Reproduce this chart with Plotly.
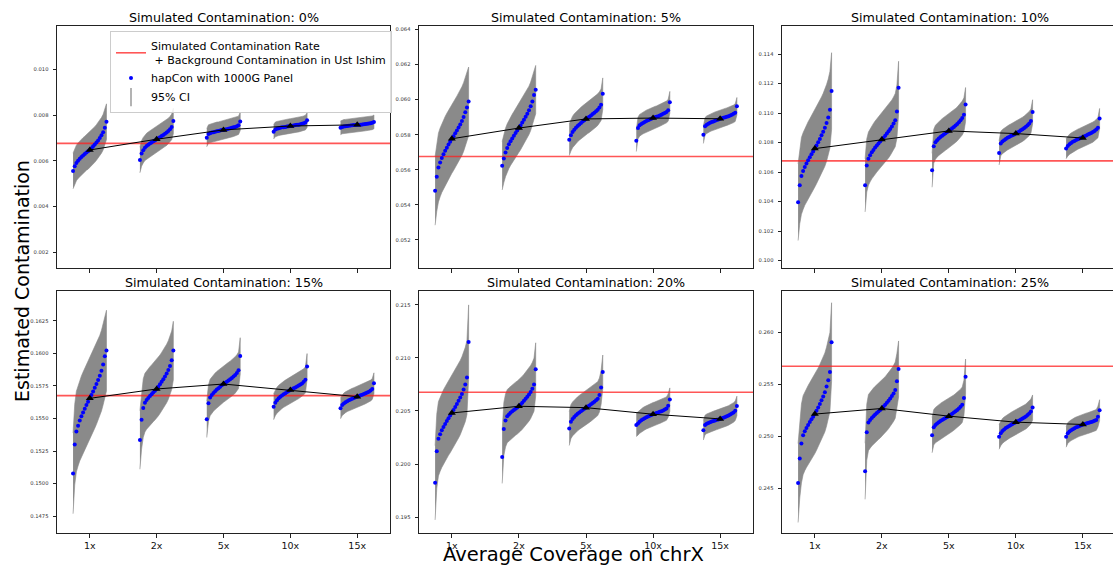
import plotly.graph_objects as go

# ---------------- data ----------------
categories = ["1x", "2x", "5x", "10x", "15x"]
panel_titles = ["Simulated Contamination: 0%", "Simulated Contamination: 5%",
                "Simulated Contamination: 10%", "Simulated Contamination: 15%",
                "Simulated Contamination: 20%", "Simulated Contamination: 25%"]
# simulated rate + background contamination in Ust Ishim
truth_lines = [0.00676, 0.05676, 0.10676, 0.15676, 0.20676, 0.25676]

est_0 = [
    [0.00555, 0.00576, 0.00590, 0.00600, 0.00609, 0.00616, 0.00623, 0.00629, 0.00636, 0.00641, 0.00647, 0.00655, 0.00663, 0.00671, 0.00680, 0.00689, 0.00699, 0.00711, 0.00725, 0.00744, 0.00771],
    [0.00603, 0.00632, 0.00646, 0.00657, 0.00664, 0.00670, 0.00675, 0.00680, 0.00685, 0.00689, 0.00694, 0.00698, 0.00703, 0.00708, 0.00713, 0.00718, 0.00723, 0.00730, 0.00738, 0.00748, 0.00774],
    [0.00701, 0.00717, 0.00720, 0.00723, 0.00725, 0.00727, 0.00729, 0.00730, 0.00732, 0.00734, 0.00735, 0.00737, 0.00738, 0.00740, 0.00742, 0.00744, 0.00746, 0.00748, 0.00751, 0.00755, 0.00772],
    [0.00727, 0.00737, 0.00740, 0.00742, 0.00744, 0.00746, 0.00747, 0.00748, 0.00750, 0.00751, 0.00752, 0.00753, 0.00754, 0.00756, 0.00757, 0.00758, 0.00760, 0.00762, 0.00764, 0.00767, 0.00777],
    [0.00744, 0.00748, 0.00750, 0.00751, 0.00752, 0.00753, 0.00754, 0.00755, 0.00756, 0.00756, 0.00757, 0.00758, 0.00758, 0.00759, 0.00760, 0.00761, 0.00762, 0.00763, 0.00764, 0.00766, 0.00770],
]
ci_0 = [0.00078, 0.00056, 0.00040, 0.00032, 0.00030]
mean_0 = [0.00647, 0.00694, 0.00735, 0.00752, 0.00757]

est_5 = [
    [0.05480, 0.05560, 0.05613, 0.05642, 0.05667, 0.05688, 0.05708, 0.05726, 0.05744, 0.05760, 0.05777, 0.05792, 0.05808, 0.05824, 0.05841, 0.05859, 0.05878, 0.05901, 0.05928, 0.05955, 0.05990],
    [0.05623, 0.05665, 0.05699, 0.05724, 0.05745, 0.05763, 0.05779, 0.05794, 0.05810, 0.05824, 0.05838, 0.05853, 0.05869, 0.05885, 0.05902, 0.05920, 0.05939, 0.05962, 0.05989, 0.06026, 0.06057],
    [0.05771, 0.05797, 0.05816, 0.05829, 0.05840, 0.05850, 0.05859, 0.05867, 0.05875, 0.05882, 0.05890, 0.05897, 0.05903, 0.05910, 0.05918, 0.05925, 0.05934, 0.05943, 0.05955, 0.05971, 0.06034],
    [0.05766, 0.05838, 0.05854, 0.05861, 0.05867, 0.05873, 0.05878, 0.05882, 0.05887, 0.05891, 0.05895, 0.05899, 0.05902, 0.05906, 0.05910, 0.05914, 0.05919, 0.05924, 0.05930, 0.05939, 0.05985],
    [0.05800, 0.05848, 0.05857, 0.05863, 0.05868, 0.05872, 0.05876, 0.05880, 0.05884, 0.05887, 0.05891, 0.05894, 0.05897, 0.05900, 0.05903, 0.05906, 0.05910, 0.05914, 0.05919, 0.05926, 0.05962],
]
ci_5 = [0.00196, 0.00138, 0.00090, 0.00062, 0.00050]
mean_5 = [0.05777, 0.05838, 0.05890, 0.05895, 0.05891]

est_10 = [
    [0.10396, 0.10510, 0.10574, 0.10607, 0.10635, 0.10659, 0.10681, 0.10701, 0.10721, 0.10740, 0.10759, 0.10781, 0.10802, 0.10825, 0.10849, 0.10874, 0.10900, 0.10933, 0.10970, 0.11022, 0.11149],
    [0.10510, 0.10645, 0.10691, 0.10714, 0.10734, 0.10750, 0.10766, 0.10780, 0.10794, 0.10807, 0.10820, 0.10833, 0.10847, 0.10861, 0.10876, 0.10892, 0.10909, 0.10929, 0.10952, 0.11010, 0.11171],
    [0.10612, 0.10775, 0.10802, 0.10816, 0.10828, 0.10837, 0.10847, 0.10855, 0.10863, 0.10871, 0.10879, 0.10888, 0.10897, 0.10906, 0.10916, 0.10926, 0.10938, 0.10951, 0.10966, 0.10988, 0.11058],
    [0.10730, 0.10793, 0.10807, 0.10816, 0.10825, 0.10832, 0.10838, 0.10844, 0.10850, 0.10855, 0.10861, 0.10868, 0.10875, 0.10883, 0.10890, 0.10898, 0.10907, 0.10917, 0.10929, 0.10946, 0.11008],
    [0.10759, 0.10776, 0.10788, 0.10797, 0.10805, 0.10811, 0.10817, 0.10823, 0.10828, 0.10833, 0.10838, 0.10843, 0.10848, 0.10854, 0.10859, 0.10865, 0.10871, 0.10879, 0.10888, 0.10900, 0.10963],
]
ci_10 = [0.00260, 0.00180, 0.00115, 0.00082, 0.00068]
mean_10 = [0.10759, 0.10820, 0.10879, 0.10861, 0.10831]

est_15 = [
    [0.15078, 0.15300, 0.15400, 0.15445, 0.15484, 0.15517, 0.15547, 0.15575, 0.15603, 0.15629, 0.15655, 0.15681, 0.15708, 0.15736, 0.15765, 0.15796, 0.15829, 0.15868, 0.15915, 0.15978, 0.16022],
    [0.15335, 0.15490, 0.15580, 0.15622, 0.15642, 0.15658, 0.15673, 0.15687, 0.15701, 0.15714, 0.15727, 0.15745, 0.15763, 0.15783, 0.15802, 0.15823, 0.15846, 0.15873, 0.15904, 0.15947, 0.16022],
    [0.15494, 0.15617, 0.15662, 0.15681, 0.15696, 0.15709, 0.15722, 0.15733, 0.15744, 0.15755, 0.15765, 0.15774, 0.15782, 0.15792, 0.15801, 0.15811, 0.15822, 0.15835, 0.15850, 0.15871, 0.15981],
    [0.15591, 0.15622, 0.15641, 0.15655, 0.15667, 0.15677, 0.15686, 0.15695, 0.15703, 0.15711, 0.15719, 0.15725, 0.15732, 0.15739, 0.15746, 0.15753, 0.15761, 0.15770, 0.15782, 0.15797, 0.15899],
    [0.15578, 0.15603, 0.15616, 0.15625, 0.15633, 0.15640, 0.15646, 0.15652, 0.15657, 0.15663, 0.15668, 0.15673, 0.15678, 0.15683, 0.15688, 0.15694, 0.15700, 0.15706, 0.15715, 0.15727, 0.15771],
]
ci_15 = [0.00310, 0.00225, 0.00140, 0.00100, 0.00080]
mean_15 = [0.15655, 0.15727, 0.15765, 0.15719, 0.15668]

est_20 = [
    [0.19823, 0.20120, 0.20238, 0.20281, 0.20318, 0.20349, 0.20378, 0.20405, 0.20432, 0.20456, 0.20481, 0.20508, 0.20536, 0.20565, 0.20595, 0.20626, 0.20660, 0.20701, 0.20749, 0.20815, 0.21149],
    [0.20067, 0.20330, 0.20410, 0.20450, 0.20467, 0.20482, 0.20496, 0.20508, 0.20521, 0.20532, 0.20544, 0.20561, 0.20577, 0.20595, 0.20614, 0.20633, 0.20654, 0.20679, 0.20708, 0.20748, 0.20892],
    [0.20334, 0.20399, 0.20425, 0.20444, 0.20460, 0.20473, 0.20486, 0.20498, 0.20509, 0.20520, 0.20531, 0.20542, 0.20552, 0.20564, 0.20575, 0.20587, 0.20601, 0.20616, 0.20650, 0.20720, 0.20867],
    [0.20368, 0.20382, 0.20399, 0.20412, 0.20422, 0.20431, 0.20440, 0.20447, 0.20455, 0.20462, 0.20469, 0.20474, 0.20480, 0.20486, 0.20492, 0.20498, 0.20505, 0.20513, 0.20522, 0.20550, 0.20607],
    [0.20318, 0.20368, 0.20379, 0.20387, 0.20394, 0.20400, 0.20406, 0.20411, 0.20416, 0.20420, 0.20425, 0.20431, 0.20437, 0.20444, 0.20451, 0.20458, 0.20466, 0.20475, 0.20486, 0.20501, 0.20547],
]
ci_20 = [0.00350, 0.00250, 0.00160, 0.00110, 0.00092]
mean_20 = [0.20481, 0.20544, 0.20531, 0.20469, 0.20425]

est_25 = [
    [0.24551, 0.24787, 0.24931, 0.25012, 0.25050, 0.25081, 0.25110, 0.25138, 0.25165, 0.25190, 0.25215, 0.25247, 0.25279, 0.25313, 0.25348, 0.25385, 0.25424, 0.25480, 0.25540, 0.25620, 0.25907],
    [0.24664, 0.25040, 0.25133, 0.25157, 0.25178, 0.25195, 0.25212, 0.25226, 0.25241, 0.25255, 0.25269, 0.25287, 0.25305, 0.25325, 0.25344, 0.25365, 0.25388, 0.25414, 0.25446, 0.25530, 0.25649],
    [0.25012, 0.25088, 0.25109, 0.25124, 0.25137, 0.25148, 0.25159, 0.25168, 0.25178, 0.25186, 0.25195, 0.25206, 0.25217, 0.25229, 0.25242, 0.25255, 0.25269, 0.25285, 0.25305, 0.25370, 0.25575],
    [0.24996, 0.25031, 0.25052, 0.25067, 0.25080, 0.25091, 0.25101, 0.25110, 0.25120, 0.25128, 0.25137, 0.25145, 0.25154, 0.25163, 0.25172, 0.25182, 0.25192, 0.25205, 0.25220, 0.25240, 0.25279],
    [0.24996, 0.25031, 0.25048, 0.25060, 0.25070, 0.25079, 0.25087, 0.25094, 0.25101, 0.25108, 0.25115, 0.25119, 0.25124, 0.25128, 0.25133, 0.25138, 0.25143, 0.25150, 0.25158, 0.25190, 0.25253],
]
ci_25 = [0.00380, 0.00270, 0.00170, 0.00120, 0.00100]
mean_25 = [0.25215, 0.25269, 0.25195, 0.25137, 0.25115]

ytick_0 = ["0.002", "0.004", "0.006", "0.008", "0.010"]
ytick_5 = ["0.052", "0.054", "0.056", "0.058", "0.060", "0.062", "0.064"]
ytick_10 = ["0.100", "0.102", "0.104", "0.106", "0.108", "0.110", "0.112", "0.114"]
ytick_15 = ["0.1475", "0.1500", "0.1525", "0.1550", "0.1575", "0.1600", "0.1625"]
ytick_20 = ["0.195", "0.200", "0.205", "0.210", "0.215"]
ytick_25 = ["0.245", "0.250", "0.255", "0.260"]

# ---------------- layout parameters ----------------
W, H = 1113, 568
FONT = "DejaVu Sans"
y_ranges = [[0.0013, 0.0119], [0.0504, 0.0642], [0.0995, 0.1159],
            [0.1462, 0.1648], [0.1935, 0.2163], [0.2407, 0.2640]]
col_px = [(57, 390), (419, 753), (782, 1113)]
x_ranges = [[-0.49, 4.49], [-0.49, 4.49], [-0.49, 4.45]]
row_px = [(26, 268), (291, 533)]
spread = 0.5  # horizontal spread of the sorted estimates within a group
BAND = "#8a8a8a"

panels = [
    (est_0, ci_0, mean_0, ytick_0), (est_5, ci_5, mean_5, ytick_5),
    (est_10, ci_10, mean_10, ytick_10), (est_15, ci_15, mean_15, ytick_15),
    (est_20, ci_20, mean_20, ytick_20), (est_25, ci_25, mean_25, ytick_25),
]

fig = go.Figure()
layout = {}
annotations = []
AX = "#222222"

for p, (est, ci, means, yticks) in enumerate(panels):
    r, c = divmod(p, 3)
    sfx = "" if p == 0 else str(p + 1)
    xa, ya = "x" + sfx, "y" + sfx

    xs, ys = [], []
    for g, vals in enumerate(est):
        n = len(vals)
        gx = [g - spread / 2 + spread * j / (n - 1) for j in range(n)]
        xs += gx
        ys += vals
        # 95% CI band: upper bounds then lower bounds (reversed), filled
        fig.add_trace(go.Scatter(
            x=gx + gx[::-1],
            y=[v + ci[g] for v in vals] + [v - ci[g] for v in vals][::-1],
            xaxis=xa, yaxis=ya, mode="lines", fill="toself",
            fillcolor=BAND, line=dict(color=BAND, width=0.6),
            hoverinfo="skip", showlegend=False))

    # red truth line
    fig.add_trace(go.Scatter(
        x=x_ranges[c], y=[truth_lines[p], truth_lines[p]], xaxis=xa, yaxis=ya,
        mode="lines", line=dict(color="rgba(255,30,30,0.75)", width=1.6),
        name="Simulated Contamination Rate<br>\u00a0+ Background Contamination in Ust Ishim",
        showlegend=(p == 0), legendrank=1))
    # blue estimates
    fig.add_trace(go.Scatter(
        x=xs, y=ys, xaxis=xa, yaxis=ya, mode="markers",
        marker=dict(color="#0000ff", size=4, line=dict(width=0)),
        name="hapCon with 1000G Panel", showlegend=(p == 0), legendrank=2))
    # mean line
    fig.add_trace(go.Scatter(
        x=list(range(len(categories))), y=means, xaxis=xa, yaxis=ya,
        mode="lines+markers", line=dict(color="black", width=1),
        marker=dict(symbol="triangle-up", size=7, color="black"),
        showlegend=False, hoverinfo="skip"))

    x0, x1 = col_px[c]
    y0, y1 = row_px[r]
    layout["xaxis" + sfx] = dict(
        domain=[x0 / W, x1 / W], range=x_ranges[c], anchor=ya,
        tickmode="array", tickvals=list(range(len(categories))), ticktext=categories,
        showticklabels=(r == 1), ticks="outside", ticklen=3.5, tickwidth=0.8,
        tickcolor=AX, showline=True, linecolor=AX, linewidth=1, mirror=True,
        showgrid=False, zeroline=False,
        tickfont=dict(family=FONT, size=9.5, color="#111"))
    layout["yaxis" + sfx] = dict(
        domain=[1 - y1 / H, 1 - y0 / H], range=y_ranges[p], anchor=xa,
        tickmode="array", tickvals=[float(t) for t in yticks], ticktext=yticks,
        ticks="outside", ticklen=3.5, tickwidth=0.8, tickcolor=AX,
        showline=True, linecolor=AX, linewidth=1, mirror=(c != 2),
        showgrid=False, zeroline=False, ticklabelstandoff=3,
        tickfont=dict(family=FONT, size=5.2, color="#333"))
    annotations.append(dict(
        text=panel_titles[p], xref="paper", yref="paper",
        x=(x0 + x1) / 2 / W if c < 2 else (x0 + 1117) / 2 / W,
        y=1 - (y0 - 8.8) / H, xanchor="center", yanchor="middle",
        showarrow=False, font=dict(family=FONT, size=12.7, color="black")))

# legend-only entry for the CI
fig.add_trace(go.Scatter(
    x=[None], y=[None], mode="markers", name="95% CI",
    marker=dict(symbol="line-ns", size=13, color="#9a9a9a",
                line=dict(color="#9a9a9a", width=1.5)),
    legendrank=3))

annotations.append(dict(
    text="Average Coverage on chrX", xref="paper", yref="paper",
    x=573 / W, y=1 - 554 / H, xanchor="center", yanchor="middle",
    showarrow=False, font=dict(family=FONT, size=19.5, color="black")))
annotations.append(dict(
    text="Estimated Contamination", xref="paper", yref="paper",
    x=22 / W, y=1 - 281 / H, xanchor="center", yanchor="middle", textangle=-90,
    showarrow=False, font=dict(family=FONT, size=19, color="black")))

layout.update(dict(
    width=W, height=H, margin=dict(l=0, r=0, t=0, b=0),
    paper_bgcolor="white", plot_bgcolor="white",
    font=dict(family=FONT),
    annotations=annotations,
    legend=dict(x=110 / W, y=1 - 31 / H, xanchor="left", yanchor="top",
                bgcolor="rgba(255,255,255,0.85)", bordercolor="#cccccc",
                borderwidth=1, font=dict(family=FONT, size=11, color="black"),
                valign="middle", tracegroupgap=2),
))
fig.update_layout(**layout)
fig.write_html("out.html")
